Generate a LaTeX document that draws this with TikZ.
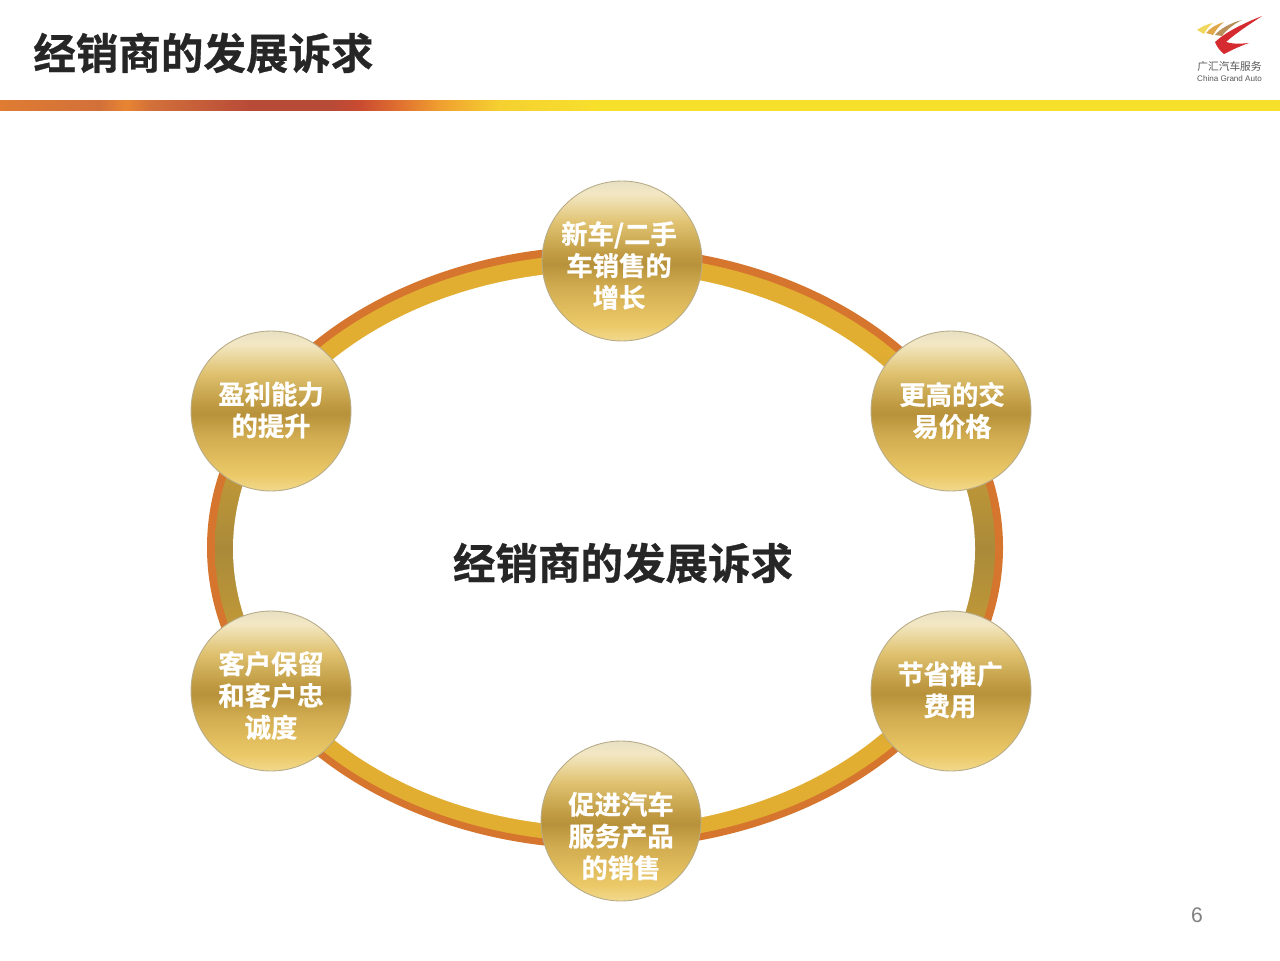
\documentclass[tikz,border=0pt]{standalone}
\usepackage{fontspec}
\setmainfont{Liberation Sans}
\newfontfamily\cjk{Noto Sans CJK SC}
\newfontfamily\cjkb{Noto Sans CJK SC Bold}[FakeBold=0.7]
\usetikzlibrary{shadings,calc}
\definecolor{bA}{HTML}{F2D98E}
\definecolor{bB}{HTML}{EBC968}
\definecolor{bC}{HTML}{D2AC50}
\definecolor{bD}{HTML}{B8923A}
\definecolor{bE}{HTML}{BF9A42}
\definecolor{bF}{HTML}{E0C270}
\definecolor{bG}{HTML}{F3E8C4}
\definecolor{bH}{HTML}{E8E0C4}
\definecolor{hA}{HTML}{DF7C32}
\definecolor{hB}{HTML}{D2703A}
\definecolor{hC}{HTML}{E88532}
\definecolor{hD}{HTML}{B84A38}
\definecolor{hE}{HTML}{C94A30}
\definecolor{hF}{HTML}{E07030}
\definecolor{hG}{HTML}{F0A030}
\definecolor{hH}{HTML}{F5D030}
\definecolor{hI}{HTML}{F7E02C}
\definecolor{ringO}{HTML}{D5752E}
\definecolor{ringA}{HTML}{E2AE32}
\definecolor{ringB}{HTML}{AA8A3A}
\definecolor{rimc}{HTML}{B8AC88}
\definecolor{logoY}{HTML}{F0D860}
\definecolor{logoO}{HTML}{E0A848}
\definecolor{logoB}{HTML}{B89058}
\definecolor{logoR}{HTML}{D42A30}
\pgfdeclareverticalshading{bubblegold}{100bp}{
  color(0bp)=(bA);
  color(25bp)=(bA);
  color(30bp)=(bB);
  color(42bp)=(bC);
  color(49bp)=(bD);
  color(52bp)=(bE);
  color(62bp)=(bF);
  color(71bp)=(bG);
  color(75bp)=(bH);
  color(100bp)=(bH)}
\pgfdeclarehorizontalshading{headerbar}{100bp}{
  color(0bp)=(hA);
  color(25bp)=(hA);
  color(28.9bp)=(hB);
  color(29.9bp)=(hC);
  color(30.9bp)=(hB);
  color(34.8bp)=(hD);
  color(37.9bp)=(hD);
  color(39bp)=(hE);
  color(40.6bp)=(hF);
  color(42.2bp)=(hG);
  color(44.5bp)=(hH);
  color(48.4bp)=(hI);
  color(100bp)=(hI)}
\pgfdeclareverticalshading{ringgold}{100bp}{
  color(0bp)=(ringA);
  color(33bp)=(ringA);
  color(50bp)=(ringB);
  color(67bp)=(ringA);
  color(100bp)=(ringA)}
\tikzset{
  x=0.02cm,y=-0.02cm,
  bubble/.style={circle,minimum size=3.2cm,inner sep=0pt,shading=bubblegold,
    draw=rimc,line width=0.5pt},
  bubbletext/.style={align=center,text=white,inner sep=0pt,
    font=\cjkb\fontsize{15}{18.1}\selectfont},
  heading/.style={font=\cjkb\fontsize{24.2}{28}\selectfont,text=black!85,inner sep=0pt}
}
\begin{document}
\begin{tikzpicture}
\useasboundingbox (0,0) rectangle (1280,960);
\fill[white] (0,0) rectangle (1280,960);
% header
\node[heading,anchor=west] (title) at (33,53) {经销商的发展诉求};
\shade[shading=headerbar] (0,100) rectangle (1280,110);
% logo
\fill[logoY] (1197,30) .. controls (1201,27) and (1207,24) .. (1213,23) .. controls (1209,26) and (1206,30) .. (1204,34) -- cycle;
\fill[logoO] (1206,33) .. controls (1210,28) and (1217,24) .. (1224,22) .. controls (1219,26) and (1216,30) .. (1213,35) -- cycle;
\fill[logoB] (1215,35) .. controls (1220,29) and (1230,23) .. (1242,20) .. controls (1234,24) and (1226,30) .. (1222,36) -- cycle;
\fill[logoR] (1262,16) .. controls (1242,24) and (1226,32) .. (1215,42) .. controls (1217,47) and (1220,51) .. (1224,54) .. controls (1232,50) and (1240,46) .. (1249,43) .. controls (1240,44) and (1232,44) .. (1226,42) .. controls (1236,33) and (1250,24) .. (1262,16) -- cycle;
\node[font=\cjk\fontsize{6.1}{6}\selectfont,text=black!65,inner sep=0pt] (logocn) at (1229.5,66) {广汇汽车服务};
\node[font=\fontsize{4.6}{6}\selectfont,text=black!65,inner sep=0pt] (logoen) at (1229.5,79) {China Grand Auto};
% ring
\fill[ringO] (605,547.5) ellipse [x radius=398,y radius=301.5];
\shade[shading=ringgold] (605,548) ellipse [x radius=390,y radius=294];
\fill[white] (604,549) ellipse [x radius=371,y radius=278];
% bubbles
\node[bubble] (a) at (622,261) {};
\node[bubble] (b) at (951,411) {};
\node[bubble] (c) at (951,691) {};
\node[bubble] (d) at (621,821) {};
\node[bubble] (e) at (271,691) {};
\node[bubble] (f) at (271,411) {};
\node[bubbletext] (ta) at (619,265.5) {新车/二手\\车销售的\\增长};
\node[bubbletext] (tb) at (952,410.5) {更高的交\\易价格};
\node[bubbletext] (tc) at (950,690) {节省推广\\费用};
\node[bubbletext] (td) at (621,836) {促进汽车\\服务产品\\的销售};
\node[bubbletext] (te) at (271,695.5) {客户保留\\和客户忠\\诚度};
\node[bubbletext] (tf) at (271,410) {盈利能力\\的提升};
\node[heading] (center) at (623,563) {经销商的发展诉求};
\node[font=\fontsize{12}{14}\selectfont,text=black!50,inner sep=0pt] (page) at (1197,915) {6};
\end{tikzpicture}
\end{document}
